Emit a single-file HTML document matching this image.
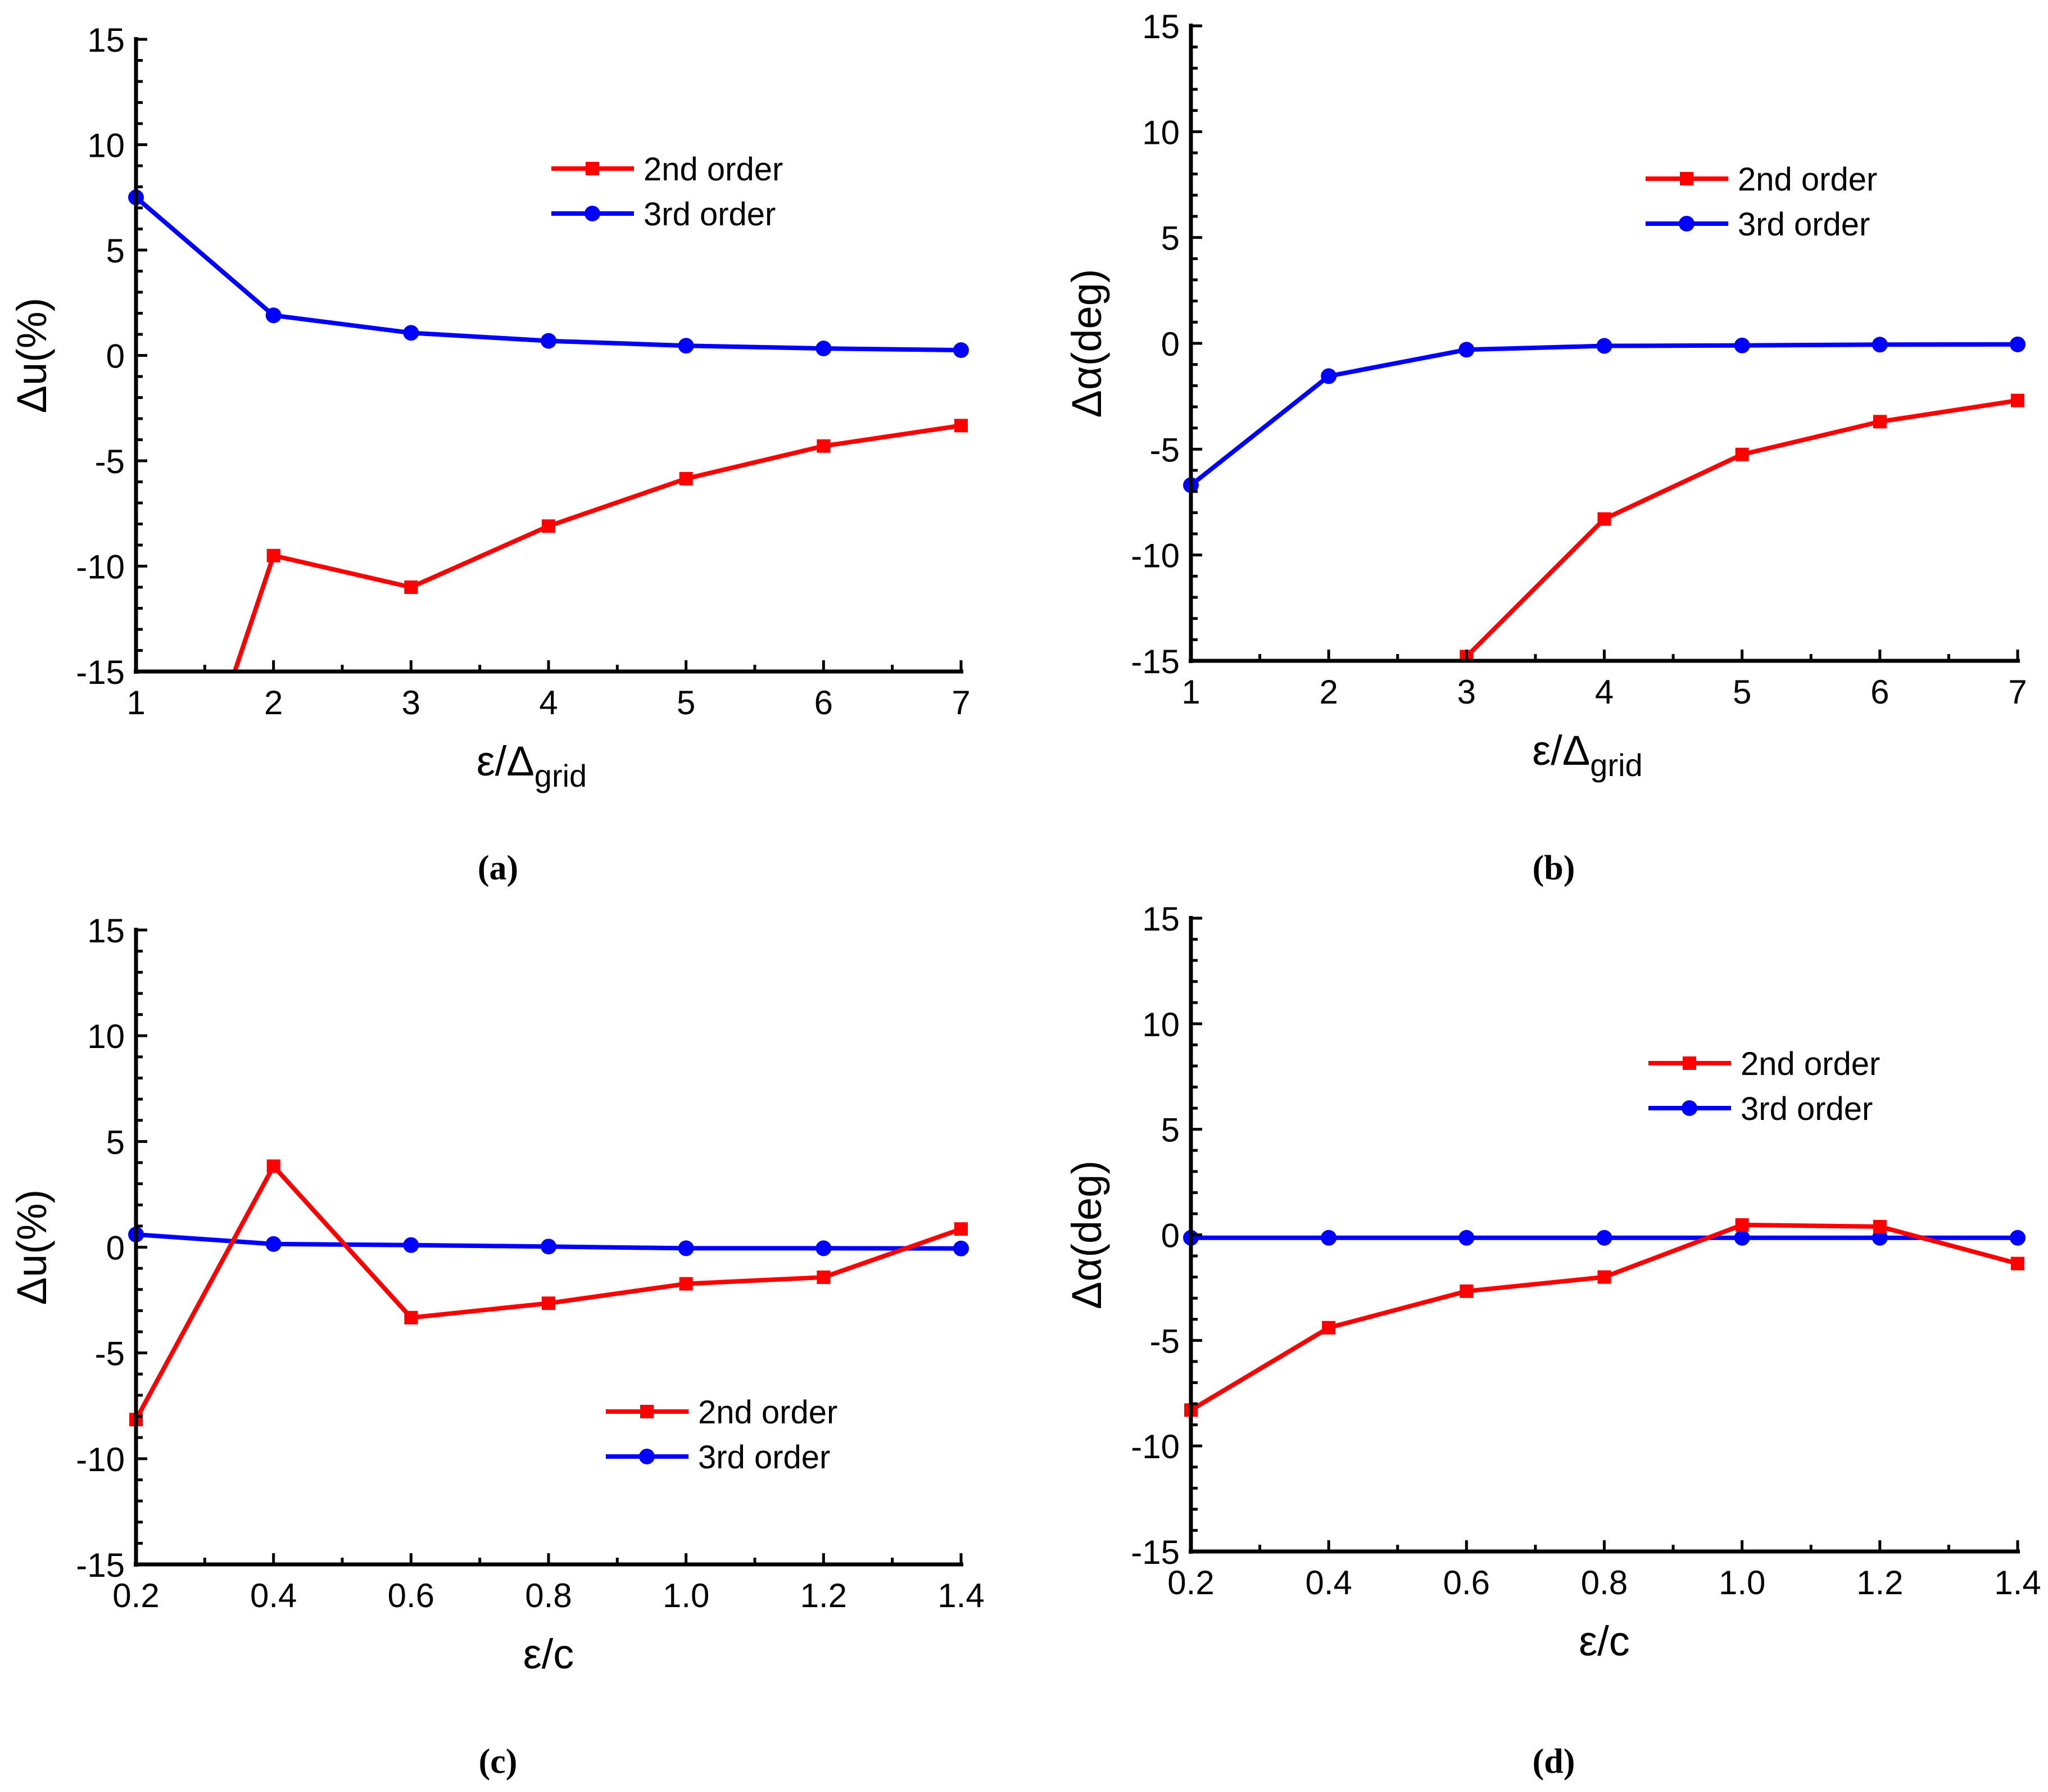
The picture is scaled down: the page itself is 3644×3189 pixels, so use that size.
<!DOCTYPE html>
<html><head><meta charset="utf-8"><style>
html,body{margin:0;padding:0;background:#fff}
svg{display:block}
text{font-family:"Liberation Sans",sans-serif;fill:#000}
</style></head><body>
<svg id="fig" width="3644" height="3189" viewBox="0 0 3644 3189"></svg>
<script>
// Panel data
const xA = [1,2,3,4,5,6,7];
const a2 = [-29,-9.5,-11.0,-8.1,-5.85,-4.3,-3.33];
const a3 = [7.5,1.9,1.07,0.69,0.46,0.33,0.25];
const xB2 = [3,4,5,6,7];
const b2 = [-14.8,-8.3,-5.25,-3.7,-2.7];
const xB3 = [1,2,3,4,5,6,7];
const b3 = [-6.7,-1.55,-0.3,-0.12,-0.1,-0.06,-0.05];
const xC = [0.2,0.4,0.6,0.8,1.0,1.2,1.4];
const c2 = [-8.15,3.83,-3.33,-2.65,-1.73,-1.42,0.86];
const c3 = [0.6,0.15,0.1,0.03,-0.05,-0.05,-0.06];
const d2 = [-8.3,-4.4,-2.67,-2.0,0.47,0.39,-1.36];
const d3 = [-0.14,-0.14,-0.14,-0.14,-0.14,-0.14,-0.14];
const yTicks = [-15,-10,-5,0,5,10,15];
const xTicksInt = ['1','2','3','4','5','6','7'];
const xTicksDec = ['0.2','0.4','0.6','0.8','1.0','1.2','1.4'];

const NS='http://www.w3.org/2000/svg';
const svg=document.getElementById('fig');
function mk(tag,attrs,parent){const e=document.createElementNS(NS,tag);for(const k in attrs)e.setAttribute(k,attrs[k]);(parent||svg).appendChild(e);return e;}

function panel(id,L,R,T,B,xmin,xmax,xlabels,xminor,s2x,s2,s3x,s3,ytitle,xtitle,leg,cap){
  const g=mk('g',{});
  
  
  const sx=v=>L+(v-xmin)/(xmax-xmin)*(R-L);
  const sy=v=>B-(v+15)/30*(B-T);
  const cid='clip'+id;
  const cp=mk('clipPath',{id:cid},g);mk('rect',{x:L-20,y:T-20,width:R-L+40,height:B-T+20},cp);
  const plot=(xs,ys,col,shape,name)=>{
    const sg=mk('g',{'clip-path':'url(#'+cid+')'},g);
    
    
    mk('polyline',{points:xs.map((x,i)=>sx(x)+','+sy(ys[i])).join(' '),fill:'none',stroke:col,'stroke-width':8,'stroke-linejoin':'round'},sg);
    xs.forEach((x,i)=>{
      if(shape==='sq')mk('rect',{x:sx(x)-12,y:sy(ys[i])-12,width:24,height:24,fill:col},sg);
      else mk('circle',{cx:sx(x),cy:sy(ys[i]),r:14,fill:col},sg);
    });
  };
  plot(s3x,s3,'#0000ff','ci','series-3rd-order');
  plot(s2x,s2,'#ff0000','sq','series-2nd-order');
  const ax=mk('g',{},g);
  
  
  mk('line',{x1:L,y1:T-4,x2:L,y2:B+4,stroke:'#000','stroke-width':7},ax);
  mk('line',{x1:L-4,y1:B,x2:R+4,y2:B,stroke:'#000','stroke-width':7},ax);
  for(let v=-15;v<=15;v++){const y=sy(v);const maj=v%5===0;mk('line',{x1:L,y1:y,x2:L+(maj?20:12),y2:y,stroke:'#000','stroke-width':5},ax);}
  yTicks.forEach(v=>{const t=mk('text',{x:L-20,y:sy(v)+22,'font-size':60,'text-anchor':'end'},ax);t.textContent=v;});
  const n=xlabels.length;
  for(let i=0;i<n;i++){const x=L+i/(n-1)*(R-L);mk('line',{x1:x,y1:B,x2:x,y2:B-20,stroke:'#000','stroke-width':5},ax);
    const t=mk('text',{x:x,y:B+76,'font-size':60,'text-anchor':'middle'},ax);t.textContent=xlabels[i];
    if(i<n-1){const xm=x+(R-L)/(n-1)/2;mk('line',{x1:xm,y1:B,x2:xm,y2:B-12,stroke:'#000','stroke-width':5},ax);}
  }
  const yt=mk('text',{x:0,y:0,'font-size':74,'text-anchor':'middle',transform:`translate(${L-160},${(T+B)/2}) rotate(-90)`},g);
  
  
  yt.textContent=ytitle;
  const xt=mk('text',{x:(L+R)/2,y:B+185,'font-size':74,'text-anchor':'middle'},g);
  
  
  if(xtitle==='grid'){xt.textContent='ε/Δ';const ts=mk('tspan',{'font-size':56,dy:20},xt);ts.textContent='grid';xt.setAttribute('x',(L+R)/2-30);}
  else xt.textContent=xtitle;
  const lg=mk('g',{},g);
  
  
  [['2nd order','#ff0000','sq',0],['3rd order','#0000ff','ci',80]].forEach(e=>{
    const y=leg[1]+e[3];
    mk('line',{x1:leg[0],y1:y,x2:leg[0]+147,y2:y,stroke:e[1],'stroke-width':8},lg);
    if(e[2]==='sq')mk('rect',{x:leg[0]+61,y:y-12,width:24,height:24,fill:e[1]},lg);
    else mk('circle',{cx:leg[0]+73,cy:y,r:14,fill:e[1]},lg);
    const t=mk('text',{x:leg[0]+164,y:y+21,'font-size':58},lg);t.textContent=e[0];
  });
  const c=mk('text',{x:(L+R)/2-90,y:cap,'font-size':62,'font-weight':'bold','text-anchor':'middle',style:'font-family:"Liberation Serif",serif'},g);
  
  
  c.textContent='('+id+')';
}
panel('a',242,1710,70,1195,1,7,xTicksInt,true,xA,a2,xA,a3,'Δu(%)','grid',[981,300],1565);
panel('b',2119,3590,46,1176,1,7,xTicksInt,true,xB2,b2,xB3,b3,'Δα(deg)','grid',[2928,318],1565);
panel('c',242,1710,1655,2784,0.2,1.4,xTicksDec,true,xC,c2,xC,c3,'Δu(%)','ε/c',[1078,2512],3155);
panel('d',2119,3590,1634,2761,0.2,1.4,xTicksDec,true,xC,d2,xC,d3,'Δα(deg)','ε/c',[2933,1892],3155);
</script>
</body></html>
